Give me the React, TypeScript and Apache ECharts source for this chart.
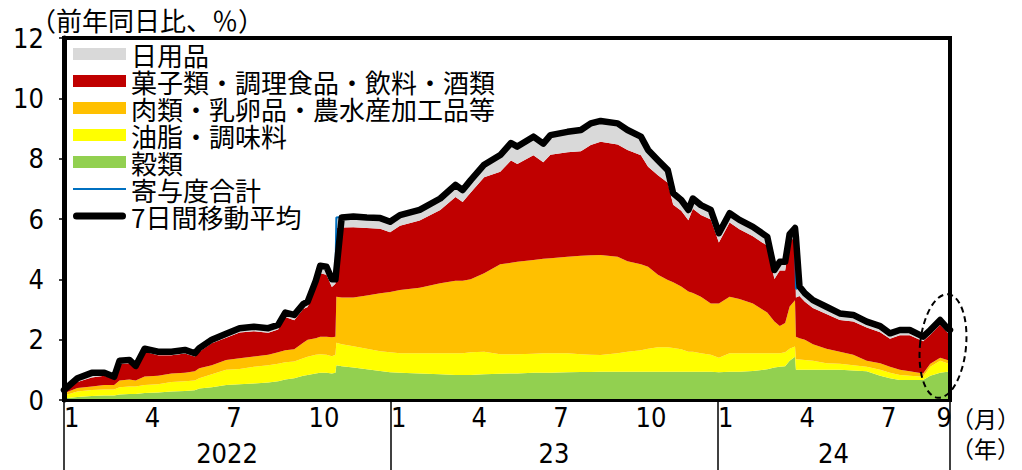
import React, { useEffect, useRef } from "react";
import * as echarts from "echarts";

// Daily contributions (percentage points) to the year-on-year food price change
const dates = [
  "2022-01-01", "2022-01-16", "2022-02-01", "2022-02-15", "2022-02-26", "2022-03-04", "2022-03-15", "2022-03-22",
  "2022-04-01", "2022-04-16", "2022-05-01", "2022-05-16", "2022-05-27", "2022-06-01", "2022-06-15", "2022-07-01",
  "2022-07-16", "2022-08-01", "2022-08-17", "2022-08-28", "2022-09-05", "2022-09-15", "2022-09-25", "2022-09-30",
  "2022-10-09", "2022-10-14", "2022-10-21", "2022-10-27", "2022-10-31", "2022-11-01", "2022-11-07", "2022-11-20",
  "2022-12-05", "2022-12-20", "2022-12-31", "2023-01-11", "2023-02-02", "2023-02-25", "2023-03-14", "2023-03-22",
  "2023-03-31", "2023-04-15", "2023-05-03", "2023-05-15", "2023-05-22", "2023-06-09", "2023-06-20", "2023-06-28",
  "2023-07-17", "2023-08-01", "2023-08-12", "2023-08-23", "2023-09-11", "2023-09-22", "2023-10-07", "2023-10-15",
  "2023-10-26", "2023-11-06", "2023-11-12", "2023-11-21", "2023-11-29", "2023-12-04", "2023-12-13", "2023-12-24",
  "2024-01-02", "2024-01-14", "2024-01-25", "2024-02-09", "2024-02-25", "2024-03-04", "2024-03-10", "2024-03-16",
  "2024-03-21", "2024-03-27", "2024-03-28", "2024-04-01", "2024-04-07", "2024-04-16", "2024-05-01", "2024-05-16",
  "2024-05-31", "2024-06-15", "2024-06-30", "2024-07-11", "2024-07-22", "2024-08-02", "2024-08-17", "2024-08-25",
  "2024-09-05", "2024-09-13", "2024-09-16",
];

// 穀類
const grains = [
  0.05, 0.10, 0.13, 0.15, 0.15, 0.18, 0.20, 0.20, 0.23, 0.25, 0.28, 0.30, 0.32, 0.38, 0.42, 0.50,
  0.52, 0.55, 0.58, 0.62, 0.68, 0.72, 0.80, 0.83, 0.88, 0.90, 0.90, 0.88, 0.90, 1.15, 1.12, 1.08,
  1.02, 0.96, 0.92, 0.90, 0.88, 0.85, 0.83, 0.83, 0.83, 0.85, 0.87, 0.88, 0.88, 0.90, 0.90, 0.90,
  0.92, 0.93, 0.93, 0.94, 0.94, 0.94, 0.94, 0.94, 0.94, 0.94, 0.94, 0.94, 0.94, 0.94, 0.94, 0.94,
  0.92, 0.94, 0.94, 0.96, 1.02, 1.08, 1.10, 1.12, 1.30, 1.43, 1.00, 1.00, 1.00, 1.00, 1.00, 1.00,
  0.98, 0.95, 0.80, 0.72, 0.66, 0.66, 0.66, 0.80, 0.90, 0.94, 0.94,
];

// 油脂・調味料
const oilsSeasonings = [
  0.10, 0.18, 0.20, 0.20, 0.20, 0.24, 0.25, 0.25, 0.27, 0.27, 0.32, 0.32, 0.33, 0.34, 0.43, 0.50,
  0.51, 0.55, 0.57, 0.58, 0.57, 0.56, 0.58, 0.60, 0.62, 0.62, 0.60, 0.57, 0.60, 0.75, 0.73, 0.70,
  0.68, 0.66, 0.66, 0.65, 0.67, 0.70, 0.72, 0.72, 0.75, 0.75, 0.65, 0.64, 0.64, 0.63, 0.65, 0.65,
  0.63, 0.59, 0.57, 0.55, 0.61, 0.66, 0.71, 0.76, 0.81, 0.81, 0.78, 0.74, 0.66, 0.66, 0.61, 0.56,
  0.48, 0.61, 0.61, 0.59, 0.53, 0.47, 0.45, 0.46, 0.40, 0.34, 0.35, 0.34, 0.33, 0.30, 0.22, 0.20,
  0.17, 0.15, 0.20, 0.18, 0.17, 0.14, 0.11, 0.30, 0.40, 0.28, 0.26,
];

// 肉類・乳卵品・農水産加工品等
const meatDairyProcessed = [
  0.07, 0.12, 0.12, 0.15, 0.15, 0.23, 0.23, 0.20, 0.28, 0.28, 0.28, 0.28, 0.30, 0.33, 0.30, 0.33,
  0.35, 0.34, 0.35, 0.38, 0.40, 0.40, 0.52, 0.57, 0.55, 0.58, 0.60, 0.63, 0.60, 1.52, 1.55, 1.62,
  1.76, 1.92, 2.00, 2.10, 2.17, 2.32, 2.40, 2.40, 2.42, 2.60, 2.98, 3.03, 3.06, 3.11, 3.13, 3.15,
  3.20, 3.26, 3.30, 3.32, 3.20, 3.00, 2.85, 2.72, 2.40, 2.23, 2.18, 2.08, 2.00, 1.95, 1.87, 1.70,
  1.80, 1.87, 1.80, 1.65, 1.35, 1.05, 0.90, 0.97, 1.40, 1.54, 0.75, 0.71, 0.67, 0.55, 0.48, 0.40,
  0.35, 0.20, 0.22, 0.20, 0.17, 0.15, 0.11, 0.10, 0.10, 0.11, 0.10,
];

// 菓子類・調理食品・飲料・酒類
const snacksPreparedDrinks = [
  0.06, 0.20, 0.30, 0.30, 0.20, 0.55, 0.54, 0.40, 0.82, 0.68, 0.60, 0.64, 0.49, 0.55, 0.73, 0.73,
  0.86, 0.84, 0.73, 0.76, 1.10, 0.96, 1.12, 1.08, 1.70, 2.10, 2.05, 1.67, 1.75, 2.28, 2.32, 2.33,
  2.24, 2.14, 1.98, 2.13, 2.23, 2.43, 2.78, 2.61, 2.88, 3.18, 3.07, 3.39, 3.24, 3.47, 3.20, 3.43,
  3.46, 3.47, 3.65, 3.75, 3.72, 3.69, 3.61, 3.31, 3.30, 3.22, 2.57, 2.51, 2.36, 2.79, 2.71, 2.78,
  2.02, 2.46, 2.31, 2.23, 2.21, 1.41, 1.84, 1.74, 2.12, 2.13, 1.30, 1.40, 1.26, 1.20, 1.15, 1.05,
  1.10, 1.10, 1.03, 0.93, 1.15, 1.20, 1.07, 0.96, 1.10, 0.91, 0.88,
];

// 日用品
const dailyGoods = [
  0.05, 0.08, 0.13, 0.10, 0.08, 0.10, 0.11, 0.08, 0.12, 0.12, 0.12, 0.12, 0.11, 0.12, 0.12, 0.14,
  0.14, 0.15, 0.15, 0.15, 0.18, 0.18, 0.18, 0.18, 0.23, 0.28, 0.27, 0.25, 0.20, 0.35, 0.35, 0.35,
  0.35, 0.35, 0.35, 0.35, 0.35, 0.38, 0.40, 0.40, 0.41, 0.42, 0.55, 0.58, 0.58, 0.62, 0.62, 0.65,
  0.68, 0.70, 0.72, 0.72, 0.70, 0.66, 0.62, 0.56, 0.50, 0.42, 0.38, 0.36, 0.34, 0.34, 0.33, 0.32,
  0.31, 0.31, 0.31, 0.31, 0.30, 0.30, 0.29, 0.29, 0.31, 0.31, 0.28, 0.31, 0.28, 0.26, 0.24, 0.22,
  0.22, 0.20, 0.20, 0.18, 0.17, 0.17, 0.15, 0.16, 0.15, 0.14, 0.14,
];

// 7日間移動平均 of the total
const movingAverage7 = [
  0.33, 0.72, 0.90, 0.90, 0.77, 1.30, 1.33, 1.13, 1.70, 1.60, 1.60, 1.66, 1.55, 1.72, 2.00, 2.20,
  2.38, 2.43, 2.38, 2.49, 2.90, 2.82, 3.18, 3.26, 3.95, 4.45, 4.42, 4.00, 4.00, 4.30, 6.05, 6.08,
  6.05, 6.03, 5.91, 6.13, 6.30, 6.68, 7.13, 6.96, 7.29, 7.80, 8.12, 8.52, 8.40, 8.73, 8.50, 8.78,
  8.89, 8.95, 9.17, 9.25, 9.17, 8.95, 8.73, 8.29, 7.95, 7.62, 6.85, 6.63, 6.30, 6.68, 6.46, 6.30,
  5.53, 6.19, 5.97, 5.74, 5.41, 4.31, 4.58, 4.58, 5.50, 5.70, 5.40, 3.76, 3.54, 3.31, 3.09, 2.87,
  2.82, 2.60, 2.45, 2.21, 2.32, 2.32, 2.10, 2.32, 2.65, 2.38, 2.32,
];

// Axis annotations
const monthTickDates = [
  "2022-01-01", "2022-04-01", "2022-07-01", "2022-10-01",
  "2023-01-01", "2023-04-01", "2023-07-01", "2023-10-01",
  "2024-01-01", "2024-04-01", "2024-07-01", "2024-09-01",
];
const yearBoundaryDates = ["2022-01-01", "2023-01-01", "2024-01-01", "2024-09-16"];
const yearLabelDates = ["2022-07-02", "2023-07-02", "2024-05-09"];
const yearLabelText: Record<number, string> = { 2022: "2022", 2023: "23", 2024: "24" };
const yTicks = { min: 0, max: 12, interval: 2 };

const SERIES_NAMES = {
  grains: "穀類",
  oils: "油脂・調味料",
  meat: "肉類・乳卵品・農水産加工品等",
  snacks: "菓子類・調理食品・飲料・酒類",
  daily: "日用品",
  total: "寄与度合計",
  ma: "7日間移動平均",
};

const COLORS = {
  grains: "#92D050",
  oils: "#FFFF00",
  meat: "#FFC000",
  snacks: "#C00000",
  daily: "#D9D9D9",
  total: "#0070C0",
  ma: "#000000",
};

const NUM_FONT = "'Liberation Sans Narrow', 'DejaVu Sans Condensed', 'Roboto Condensed', sans-serif";
const JP_FONT = "'Noto Sans CJK JP', 'Noto Sans CJK SC', sans-serif";

// Legend glyphs for the two line series: a thin stroke and a thick rounded bar
const THIN_LINE_ICON = "path://M0,0H53V2H0Z";
const THICK_LINE_ICON = "path://M3.5,0H49.5A3.5,3.5,0,0,1,49.5,7H3.5A3.5,3.5,0,0,1,3.5,0Z";

const ts = (d: string) => Date.parse(d);

function buildOption(): echarts.EChartsOption {
  const xs = dates.map(ts);
  const pair = (vals: number[]) => vals.map((v, i) => [xs[i], v]);
  const total = dates.map((_, i) =>
    Math.round((grains[i] + oilsSeasonings[i] + meatDairyProcessed[i] + snacksPreparedDrinks[i] + dailyGoods[i]) * 100) / 100
  );

  const areaSeries = (name: string, color: string, vals: number[]) => ({
    name,
    type: "line" as const,
    stack: "contrib",
    data: pair(vals),
    color,
    symbol: "none",
    lineStyle: { width: 0 },
    areaStyle: { color, opacity: 1 },
    z: 2,
  });

  const xMin = ts(dates[0]);
  const xMax = ts(dates[dates.length - 1]);

  const labelAxisBase = {
    type: "value" as const,
    min: xMin,
    max: xMax,
    position: "bottom" as const,
    axisLine: { show: false },
    splitLine: { show: false },
  };

  return {
    animation: false,
    backgroundColor: "#ffffff",
    grid: {
      left: 64,
      right: 72,
      top: 38,
      bottom: 70,
      show: true,
      borderColor: "#000",
      borderWidth: 4,
      backgroundColor: "transparent",
    },
    legend: {
      orient: "vertical",
      left: 73,
      top: 41,
      padding: 0,
      itemWidth: 53,
      itemHeight: 12,
      itemGap: 1,
      selectedMode: false,
      textStyle: { fontSize: 26, lineHeight: 26, color: "#000", fontFamily: JP_FONT },
      data: [
        { name: SERIES_NAMES.daily, icon: "rect" },
        { name: SERIES_NAMES.snacks, icon: "rect" },
        { name: SERIES_NAMES.meat, icon: "rect" },
        { name: SERIES_NAMES.oils, icon: "rect" },
        { name: SERIES_NAMES.grains, icon: "rect" },
        { name: SERIES_NAMES.total, icon: THIN_LINE_ICON },
        { name: SERIES_NAMES.ma, icon: THICK_LINE_ICON },
      ],
    },
    xAxis: [
      {
        // time axis carrying the series and the bottom frame line
        type: "time",
        min: xMin,
        max: xMax,
        z: 10,
        axisLine: { show: true, lineStyle: { color: "#000", width: 3 } },
        axisTick: { show: false },
        axisLabel: { show: false },
        splitLine: { show: false },
      },
      {
        // month labels and year dividers
        ...labelAxisBase,
        axisTick: {
          show: true,
          inside: false,
          length: 70,
          lineStyle: { color: "#000", width: 1.5 },
          customValues: yearBoundaryDates.map(ts),
        },
        axisLabel: {
          show: true,
          customValues: monthTickDates.map(ts),
          formatter: (v: number) => String(new Date(v).getUTCMonth() + 1),
          align: "left",
          margin: 4,
          fontSize: 27,
          fontFamily: NUM_FONT,
          color: "#000",
          hideOverlap: false,
        },
      },
      {
        // year labels, centred within each year
        ...labelAxisBase,
        axisTick: { show: false },
        axisLabel: {
          show: true,
          customValues: yearLabelDates.map(ts),
          formatter: (v: number) => yearLabelText[new Date(v).getUTCFullYear()] ?? "",
          align: "center",
          margin: 40,
          fontSize: 27,
          fontFamily: NUM_FONT,
          color: "#000",
          hideOverlap: false,
        },
      },
    ],
    yAxis: [
      {
        type: "value",
        min: yTicks.min,
        max: yTicks.max,
        interval: yTicks.interval,
        z: 10,
        axisLine: { show: true, lineStyle: { color: "#000", width: 5 } },
        axisTick: { show: true, inside: false, length: 5, lineStyle: { color: "#000", width: 1.5 } },
        splitLine: { show: false },
        axisLabel: { margin: 20, fontSize: 27, fontFamily: NUM_FONT, color: "#000" },
      },
      {
        type: "value",
        min: yTicks.min,
        max: yTicks.max,
        position: "right",
        z: 10,
        axisLine: { show: true, onZero: false, lineStyle: { color: "#000", width: 4 } },
        axisTick: { show: false },
        axisLabel: { show: false },
        splitLine: { show: false },
      },
    ],
    series: [
      areaSeries(SERIES_NAMES.grains, COLORS.grains, grains),
      areaSeries(SERIES_NAMES.oils, COLORS.oils, oilsSeasonings),
      areaSeries(SERIES_NAMES.meat, COLORS.meat, meatDairyProcessed),
      areaSeries(SERIES_NAMES.snacks, COLORS.snacks, snacksPreparedDrinks),
      areaSeries(SERIES_NAMES.daily, COLORS.daily, dailyGoods),
      {
        name: SERIES_NAMES.total,
        type: "line",
        data: pair(total),
        color: COLORS.total,
        symbol: "none",
        lineStyle: { width: 2, color: COLORS.total },
        z: 3,
      },
      {
        name: SERIES_NAMES.ma,
        type: "line",
        data: pair(movingAverage7),
        color: COLORS.ma,
        symbol: "none",
        lineStyle: { width: 6.5, color: COLORS.ma, cap: "round", join: "round" },
        z: 4,
      },
    ],
    graphic: [
      {
        type: "text",
        left: 30,
        top: 6,
        style: { text: "（前年同日比、％）", fontSize: 26, fontFamily: JP_FONT, fill: "#000" },
      },
      {
        type: "text",
        left: 951,
        top: 406,
        style: { text: "（月）", fontSize: 23, fontFamily: JP_FONT, fill: "#000" },
      },
      {
        type: "text",
        left: 951,
        top: 436,
        style: { text: "（年）", fontSize: 23, fontFamily: JP_FONT, fill: "#000" },
      },
      {
        type: "ellipse",
        x: 943,
        y: 346,
        rotation: -0.1,
        shape: { cx: 0, cy: 0, rx: 23, ry: 52 },
        style: { fill: "none", stroke: "#000", lineWidth: 2, lineDash: [6, 4] },
        z: 20,
      },
    ],
  };
}

export default function App() {
  const ref = useRef<HTMLDivElement>(null);
  useEffect(() => {
    if (!ref.current) return;
    const chart = echarts.init(ref.current, null, { renderer: "svg" });
    chart.setOption(buildOption());
    return () => chart.dispose();
  }, []);
  return (
    <div
      ref={ref}
      style={{ position: "fixed", left: 0, top: 0, width: 1022, height: 470, background: "#fff" }}
    />
  );
}
